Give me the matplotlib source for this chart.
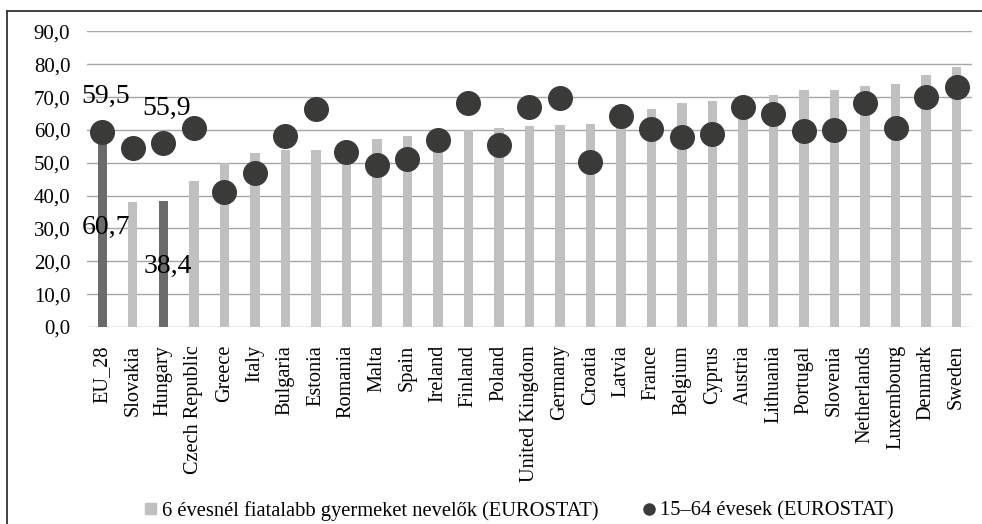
import numpy as np
import matplotlib
matplotlib.use("Agg")
import matplotlib.pyplot as plt
from matplotlib.lines import Line2D
from matplotlib.patches import Patch

plt.rcParams["font.family"] = ["Liberation Serif", "DejaVu Serif"]

countries = ["EU_28", "Slovakia", "Hungary", "Czech Republic", "Greece", "Italy",
             "Bulgaria", "Estonia", "Romania", "Malta", "Spain", "Ireland",
             "Finland", "Poland", "United Kingdom", "Germany", "Croatia", "Latvia",
             "France", "Belgium", "Cyprus", "Austria", "Lithuania", "Portugal",
             "Slovenia", "Netherlands", "Luxembourg", "Denmark", "Sweden"]
# 6 évesnél fiatalabb gyermeket nevelők (bars)
parents = [60.7, 38.0, 38.4, 44.4, 49.8, 53.1, 53.9, 53.9, 52.7, 57.2, 58.3, 56.0,
           60.1, 60.5, 61.2, 61.4, 61.8, 63.5, 66.4, 68.1, 68.8, 69.6, 70.5, 72.3,
           72.3, 73.5, 74.1, 76.8, 79.1]
# 15-64 évesek (dots)
all_1564 = [59.5, 54.5, 55.9, 60.6, 41.1, 46.9, 58.3, 66.3, 53.2, 49.4, 51.2, 56.9,
            68.1, 55.3, 67.1, 69.6, 50.1, 64.4, 60.3, 57.9, 58.7, 66.9, 65.0, 59.7,
            60.0, 68.3, 60.6, 69.9, 73.2]
highlight = ["EU_28", "Hungary"]

LIGHT = "#c0c0c0"
DARK = "#6b6b6b"
DOT = "#3a3a38"
GRID = "#a6a6a6"

x = np.arange(len(countries))
bar_colors = [DARK if c in highlight else LIGHT for c in countries]

fig = plt.figure(figsize=(9.82, 5.24), dpi=100)
ax = fig.add_axes([0.0886, 0.376, 0.901, 0.564])

ax.bar(x, parents, width=0.31, color=bar_colors, zorder=2)
ax.plot(x, all_1564, ls="none", marker="o", ms=17, color=DOT, zorder=3)

ax.set_xlim(-0.5, len(countries) - 0.5)
ax.set_ylim(0, 90)
ax.set_yticks(np.arange(0, 91, 10))
ax.set_yticklabels([f"{v:.1f}".replace(".", ",") for v in np.arange(0, 91, 10)],
                   fontsize=15)
ax.set_xticks(x)
ax.set_xticklabels(countries, rotation=90, fontsize=14.6)
ax.tick_params(length=0)
ax.tick_params(axis="x", pad=13)
ax.tick_params(axis="y", pad=12)
ax.grid(axis="y", color=GRID, lw=1, zorder=0)
for s in ax.spines.values():
    s.set_visible(False)

# data labels for EU_28 and Hungary
fmt = lambda v: f"{v:.1f}".replace(".", ",")
for c in highlight:
    i = countries.index(c)
    ax.annotate(fmt(all_1564[i]), (x[i], all_1564[i]), xytext=(2.5, 25),
                textcoords="offset points", ha="center", va="center", fontsize=20)
ax.annotate(fmt(parents[0]), (x[0], parents[0]), xytext=(2.5, -72),
            textcoords="offset points", ha="center", va="center", fontsize=20)
ax.annotate(fmt(parents[2]), (x[2], parents[2]), xytext=(3, -47),
            textcoords="offset points", ha="center", va="center", fontsize=20)

handles = [Patch(color=LIGHT, label="6 évesnél fiatalabb gyermeket nevelők (EUROSTAT)"),
           Line2D([], [], ls="none", marker="o", ms=8, color=DOT,
                  label="15–64 évesek (EUROSTAT)")]
fig.legend(handles=handles, loc="center", bbox_to_anchor=(0.529, 0.025), ncol=2,
           frameon=False, fontsize=14.8, handlelength=0.5, handleheight=0.5,
           handletextpad=0.3, columnspacing=2.2, borderpad=0)

# outer frame (left and top edges)
fig.add_artist(Line2D([0.0075, 0.0075], [0.0, 0.979], color="#333333", lw=1.3,
                      transform=fig.transFigure))
fig.add_artist(Line2D([0.0075, 1.0], [0.979, 0.979], color="#333333", lw=1.3,
                      transform=fig.transFigure))

fig.savefig("out.png", dpi=100)
